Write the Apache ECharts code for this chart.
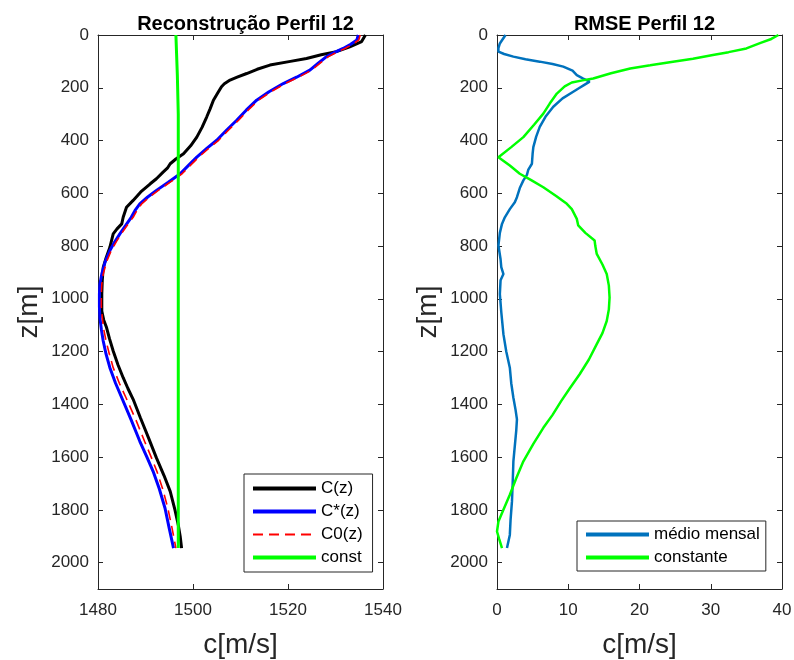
<!DOCTYPE html>
<html>
<head>
<meta charset="utf-8">
<script src="https://cdn.jsdelivr.net/npm/echarts@6/dist/echarts.min.js"></script>
<style>html,body{margin:0;padding:0;background:#fff}#c{width:794px;height:660px}</style>
</head>
<body>
<div id="c"></div>
<script>
// ---- data (depth z in m) ----
var zC = [0,6,25,45,63,75,89,100,114,130,146,160,171,185,196,220,247,280,310,350,387,420,450,470,488,505,520,545,564,595,627,653,691,716,735,754,805,845,881,930,982,1046,1080,1109,1150,1198,1250,1299,1340,1381,1450,1530,1603,1670,1730,1800,1857,1900,1945];
var cC = [1536.3,1536.0,1535.5,1533.0,1530.2,1527.0,1523.9,1520.5,1516.2,1513.5,1511.3,1509.3,1507.8,1506.6,1506.0,1505.2,1504.3,1503.6,1502.9,1501.9,1500.8,1499.5,1498.0,1496.4,1495.2,1494.6,1493.7,1492.3,1491.0,1489.0,1487.4,1486.0,1485.3,1485.0,1484.0,1483.2,1482.5,1481.7,1481.1,1480.9,1480.8,1480.8,1481.2,1481.8,1482.4,1483.2,1484.2,1485.3,1486.3,1487.4,1488.9,1490.7,1492.3,1493.9,1495.2,1496.2,1496.9,1497.3,1497.6];

var zStar = [0,19,35,51,66,82,108,133,160,184,215,247,285,323,360,399,430,463,495,526,558,589,615,640,665,691,720,754,785,817,860,906,945,982,1030,1071,1115,1160,1210,1261,1320,1375,1460,1540,1600,1654,1720,1793,1870,1945];
var cStar = [1534.8,1534.5,1533.2,1531.6,1529.8,1528.1,1526.3,1524.6,1521.8,1519.0,1516.0,1513.4,1511.2,1509.2,1507.1,1505.0,1502.9,1500.8,1499.0,1497.3,1494.8,1492.3,1490.4,1488.8,1487.8,1487.0,1485.9,1484.6,1483.5,1482.5,1481.5,1480.8,1480.4,1480.3,1480.3,1480.4,1480.7,1481.1,1481.7,1482.5,1483.7,1485.0,1487.0,1488.8,1490.3,1491.6,1492.9,1494.1,1495.0,1495.9];
var c0 = [1535.2,1534.9,1533.6,1532.0,1530.2,1528.5,1526.7,1525.0,1522.2,1519.4,1516.4,1513.8,1511.6,1509.6,1507.5,1505.4,1503.3,1501.2,1499.4,1497.7,1495.2,1492.7,1490.8,1489.2,1488.2,1487.4,1486.2,1484.9,1483.8,1482.8,1481.8,1481.1,1480.8,1480.7,1480.7,1480.9,1481.2,1481.7,1482.4,1483.2,1484.5,1485.9,1488.0,1489.8,1491.2,1492.4,1493.6,1494.7,1495.6,1496.4];

var zConst = [0,150,300,1000,1945];
var cConst = [1496.4,1496.7,1496.9,1496.9,1496.9];

var zMed = [0,6,20,32,50,63,72,82,92,101,110,120,135,152,165,177,190,200,215,240,272,310,348,385,425,450,488,510,530,551,580,615,634,660,691,716,750,798,850,880,906,930,982,1050,1134,1200,1261,1320,1375,1420,1457,1500,1616,1700,1768,1840,1895,1945];
var rMed = [1.2,1.1,0.7,0.4,0.2,0.2,1.0,2.3,4.0,6.0,7.8,9.3,10.6,11.2,12.1,13.0,12.2,11.6,10.7,9.2,7.9,6.8,6.0,5.5,5.1,5.0,4.9,4.4,4.2,3.7,3.2,2.8,2.5,1.8,1.1,0.7,0.4,0.2,0.5,0.6,0.9,0.5,0.4,0.6,0.9,1.3,1.8,2.0,2.3,2.6,2.8,2.7,2.3,2.2,2.1,1.9,1.8,1.4];

var zCons = [0,15,30,51,65,76,90,101,115,127,145,165,172,180,195,222,260,298,340,387,425,463,495,526,550,577,610,640,660,697,722,750,779,800,830,870,906,950,995,1040,1084,1130,1172,1230,1286,1340,1388,1440,1489,1550,1616,1680,1743,1800,1844,1882,1910,1945];
var rCons = [39.5,38.5,37.0,35.0,32.5,30.3,27.5,24.7,21.5,18.7,16.0,13.5,12.0,10.5,9.5,8.4,7.4,6.5,5.2,3.7,2.0,0.2,1.8,3.2,4.8,6.5,8.3,9.8,10.5,11.2,11.4,12.4,13.7,13.8,14.0,14.8,15.4,15.7,15.8,15.7,15.4,14.8,14.0,12.9,11.6,10.2,9.0,7.8,6.5,5.1,3.7,2.7,1.8,0.9,0.2,0.0,0.3,0.7];

var namesLeft = ['C(z)','C*(z)','C0(z)','const'];
var namesRight = ['médio mensal','constante'];
var titles = ['Reconstrução Perfil 12','RMSE Perfil 12'];

function pairs(vals, zs){ return vals.map(function(v,i){ return [v, zs[i]]; }); }

var FONT = '"Liberation Sans", Arial, Helvetica, sans-serif';
var AX = '#262626';
var chart = echarts.init(document.getElementById('c'), null, {renderer:'canvas'});

function xAx(grid, min, max, interval, pos, labels){
  return {
    type:'value', gridIndex:grid, min:min, max:max, interval:interval, position:pos,
    name: labels ? 'c[m/s]' : '', nameLocation:'middle', nameGap:42,
    nameTextStyle:{fontFamily:FONT, fontSize:28, color:AX},
    axisLine:{show:true, onZero:false, lineStyle:{color:AX, width:1}},
    axisTick:{show:true, inside:true, length:5, lineStyle:{color:AX}},
    axisLabel:{show:labels, fontFamily:FONT, fontSize:17, color:AX, margin:13, formatter:function(v){return String(v);}},
    splitLine:{show:false}
  };
}
function yAx(grid, pos, labels){
  return {
    type:'value', gridIndex:grid, min:0, max:2100, interval:200, inverse:true, position:pos,
    name: labels ? 'z[m]' : '', nameLocation:'middle', nameGap:55,
    nameTextStyle:{fontFamily:FONT, fontSize:28, color:AX},
    axisLine:{show:true, onZero:false, lineStyle:{color:AX, width:1}},
    axisTick:{show:true, inside:true, length:5, lineStyle:{color:AX}},
    axisLabel:{show:labels, fontFamily:FONT, fontSize:17, color:AX, margin:9, showMaxLabel:false,
      formatter:function(v){ return v===2100 ? '' : String(v); }},
    splitLine:{show:false}
  };
}
function ln(name, xi, yi, data, color, width, type){
  return {type:'line', name:name, xAxisIndex:xi, yAxisIndex:yi, data:data, symbol:'none', showSymbol:false,
    animation:false, lineStyle:{color:color, width:width, type:type||'solid'}, itemStyle:{color:color}, z:2};
}
function legItems(names, widths){
  return names.map(function(n,i){ return {name:n, lineStyle:{width:widths[i]}}; });
}

var legendCommon = {
  orient:'vertical', itemWidth:63, itemHeight:14, itemGap:6,
  backgroundColor:'#fff', borderColor:AX, borderWidth:1, borderRadius:0,
  textStyle:{fontFamily:FONT, fontSize:17, color:'#000', lineHeight:17},
  lineStyle:{width:'inherit'}, itemStyle:{opacity:0}, selectedMode:false
};

chart.setOption({
  backgroundColor:'#fff',
  animation:false,
  title:[
    {text:titles[0], left:240.5, top:9, textAlign:'center', textStyle:{fontFamily:FONT, fontSize:20, fontWeight:'bold', color:'#000'}},
    {text:titles[1], left:639.5, top:9, textAlign:'center', textStyle:{fontFamily:FONT, fontSize:20, fontWeight:'bold', color:'#000'}}
  ],
  grid:[
    {left:98, top:35, width:285, height:554, containLabel:false, outerBoundsMode:'none'},
    {left:497, top:35, width:285, height:554, containLabel:false, outerBoundsMode:'none'}
  ],
  xAxis:[
    xAx(0,1480,1540,20,'bottom',true),
    xAx(1,0,40,10,'bottom',true),
    xAx(0,1480,1540,20,'top',false),
    xAx(1,0,40,10,'top',false)
  ],
  yAxis:[
    yAx(0,'left',true),
    yAx(1,'left',true),
    yAx(0,'right',false),
    yAx(1,'right',false)
  ],
  legend:[
    Object.assign({}, legendCommon, {data:legItems(namesLeft,[4,4,2,4]), left:244, top:474, padding:[6,10,6,7]}),
    Object.assign({}, legendCommon, {data:legItems(namesRight,[4,4]), left:577, top:521, padding:[5,6,5,7]})
  ],
  series:[
    ln(namesLeft[0],0,0,pairs(cC,zC),'#000000',3),
    ln(namesLeft[1],0,0,pairs(cStar,zStar),'#0000ff',3),
    ln(namesLeft[2],0,0,pairs(c0,zStar),'#ff0000',1.6,[10,6]),
    ln(namesLeft[3],0,0,pairs(cConst,zConst),'#00ff00',3),
    ln(namesRight[0],1,1,pairs(rMed,zMed),'#0072bd',2.5),
    ln(namesRight[1],1,1,pairs(rCons,zCons),'#00ff00',2.5)
  ]
});
</script>
</body>
</html>
